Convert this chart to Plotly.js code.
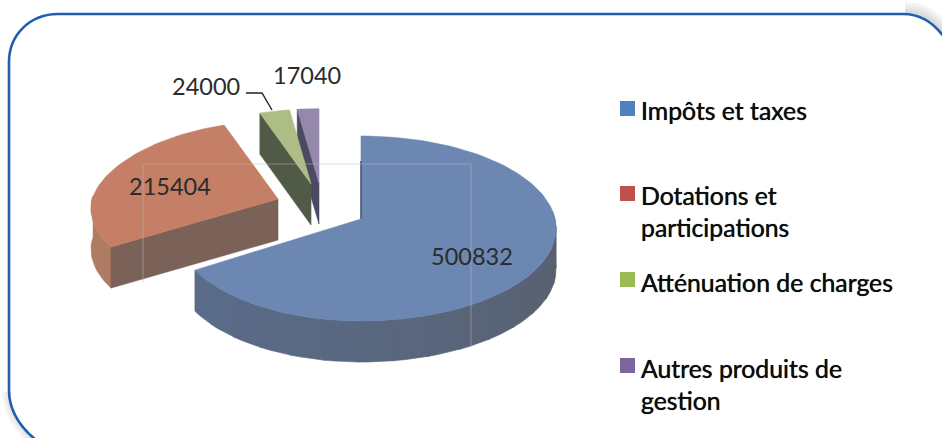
<!DOCTYPE html>
<html><head><meta charset="utf-8">
<script src="https://cdn.plot.ly/plotly-3.0.1.min.js"></script>
<style>html,body{margin:0;padding:0;background:#fff;overflow:hidden}</style>
</head><body><div id="chart" style="width:942px;height:438px"></div>
<script>
// ---- data ----
const categories = ["Impôts et taxes", "Dotations et<br>participations", "Atténuation de charges", "Autres produits de<br>gestion"];
const values = [500832, 215404, 24000, 17040];
// ---- styles ----
const topColors  = ["#6c87b1", "#c47f66", "#adbd85", "#9488ab"];
const faceColors = ["#3f4f6b", "#7a6258", "#515a47", "#4c4a62"];
const keyColors  = ["#4f81bd", "#c0504d", "#9bbb59", "#8064a2"];
// ---- 3D projection of each exploded slice: apex position on the page, radii ----
const apexX = [361, 278, 311, 319];
const apexY = [219, 199, 184, 183];
const radX  = [194, 180, 168, 170];
const radXLeft = [185, 186, 168, 170];
const radY  = [91.5, 86, 82.5, 82];
const depth = 41;
const persp = 0.103;

const total = values.reduce((a, b) => a + b, 0);
function pt(i, deg) {
  const t = deg * Math.PI / 180, u = Math.sin(t), v = -Math.cos(t), s = 1 / (1 - persp * v);
  const rx = u < 0 ? (i === 1 ? radXLeft[i] - 6 * Math.max(0, -v) * 1.6 : radXLeft[i]) : radX[i];
  return [apexX[i] + rx * u * s, apexY[i] + radY[i] * v * s];
}
function arc(i, a, b) {
  const n = Math.max(2, Math.ceil(Math.abs(b - a) / 2)), out = [];
  for (let k = 0; k <= n; k++) out.push(pt(i, a + (b - a) * k / n));
  return out;
}
function poly(points, color) {
  const pts = points.concat([points[0]]);
  return {type: "scatter", mode: "lines", x: pts.map(p => p[0]), y: pts.map(p => p[1]),
    fill: "toself", fillcolor: color, line: {width: 0.6, color: color}, hoverinfo: "skip", showlegend: false};
}
function down(p) { return [p[0], p[1] + depth]; }
function mix(c1, c2, f) {
  const h = c => [1, 3, 5].map(j => parseInt(c.substr(j, 2), 16));
  const a = h(c1), b = h(c2);
  return "rgb(" + a.map((x, j) => Math.round(x + (b[j] - x) * f)).join(",") + ")";
}
function rim(i, a, b) {
  const top = arc(i, a, b);
  return top.concat(top.slice().reverse().map(down));
}

// angles of each slice, clockwise from the top
const starts = [], ends = [];
values.reduce((acc, v, i) => { starts[i] = acc; ends[i] = acc + v / total * 360; return ends[i]; }, 0);

const traces = [];
// purple, green
[3, 2].forEach(i => {
  const a = pt(i, starts[i]), o = [apexX[i], apexY[i]];
  traces.push(poly([a, o, down(o), down(a)], faceColors[i]));
  traces.push(poly([o].concat(arc(i, starts[i], ends[i])), topColors[i]));
});
// red
{
  const i = 1, a = pt(i, starts[i]), o = [apexX[i], apexY[i]];
  traces.push(poly(rim(i, starts[i], 272), "#b07b63"));
  traces.push(poly([a, o, down(o), down(a)], faceColors[i]));
  traces.push(poly([o].concat(arc(i, starts[i], ends[i])), topColors[i]));
}
// blue
{
  const i = 0, o = [apexX[i], apexY[i]], bands = 16, from = 85, to = ends[0];
  for (let b = 0; b < bands; b++) {
    const a1 = from + (to - from) * b / bands, a2 = from + (to - from) * (b + 1) / bands + 0.5;
    traces.push(poly(rim(i, Math.min(a2, to), a1), mix("#585f6c", "#5a6c8a", b / (bands - 1))));
  }
  traces.push(poly([o].concat(arc(i, 0, ends[i])), topColors[i]));
  const tp = pt(i, 0);
  traces.push({type: "scatter", mode: "lines", x: [tp[0], o[0]], y: [tp[1] + 25, o[1]],
    line: {width: 1.4, color: faceColors[0]}, hoverinfo: "skip", showlegend: false});
}
// legend keys
const keyX = [627.5, 627.5, 627.5, 627.5], keyY = [108.5, 193.5, 279.5, 365.5];
traces.push({type: "scatter", mode: "markers", x: keyX, y: keyY,
  marker: {symbol: "square", size: 15, color: keyColors, line: {width: 0}}, hoverinfo: "skip", showlegend: false});

const FONT = "Lato, Carlito, sans-serif";
const labelX = [471.5, 170, 206, 307], labelY = [256, 186, 86, 75];
const legendY = [110, 211.5, 282, 384];
const annotations = [];
values.forEach((v, i) => annotations.push({x: labelX[i], y: labelY[i], text: String(v), showarrow: false,
  xanchor: "center", yanchor: "middle", font: {family: FONT, size: 23.5, color: "#2b2b2b"}}));
categories.forEach((c, i) => annotations.push({x: 638.5, y: legendY[i], text: c, showarrow: false, align: "left",
  xanchor: "left", yanchor: "middle", font: {family: FONT, size: 24.8, color: "#0d0d0d", shadow: "0 0 0.7px #000"}}));

const framePath = "M 36 440 C 20 427, 9 410, 9 390 L 9 62 C 9 35, 30 14, 58 14 L 903 14 C 920 14, 933 22, 944 37";
const soft = (path, widths, alpha) => widths.map(w => ({type: "path", path, layer: "below",
  line: {color: "rgba(120,120,120," + alpha + ")", width: w}}));
const shapes = [
  ...soft("M 905 13 C 921 13, 934 21, 945 36", [22, 16, 10, 5], 0.07),
  ...soft("M 8 392 C 8 412, 19 428, 35 441", [12, 8, 4], 0.06),
  {type: "path", path: framePath, line: {color: "#1f5fae", width: 2.6}, layer: "above"},
  {type: "path", path: "M 143 283 L 143 164 L 471 164 L 471 347", line: {color: "rgba(190,190,190,0.5)", width: 1}, layer: "above"},
  {type: "path", path: "M 246 93 L 262 93 L 272 110", line: {color: "#222", width: 1.4}, layer: "above"},
  // interior of the frame stays clean of the soft shadow
  {type: "path", path: "M 36 440 C 20 427, 9 410, 9 390 L 9 62 C 9 35, 30 14, 58 14 L 903 14 C 920 14, 933 22, 944 37 L 944 440 Z",
   fillcolor: "#fff", line: {width: 0}, layer: "below"}
];

Plotly.newPlot("chart", traces, {
  width: 942, height: 438, margin: {l: 0, r: 0, t: 0, b: 0},
  paper_bgcolor: "#fff", plot_bgcolor: "rgba(0,0,0,0)", showlegend: false,
  xaxis: {range: [0, 942], visible: false, fixedrange: true},
  yaxis: {range: [438, 0], visible: false, fixedrange: true},
  annotations, shapes
}, {displayModeBar: false, staticPlot: true});
</script></body></html>
